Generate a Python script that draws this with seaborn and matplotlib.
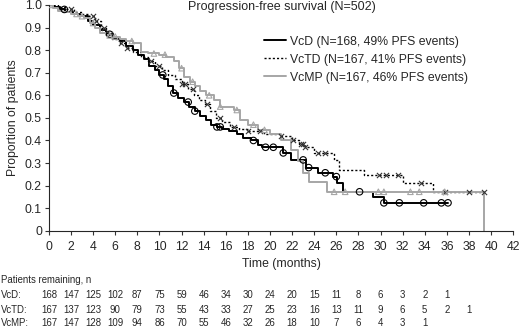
import matplotlib
matplotlib.use("Agg")
import matplotlib.pyplot as plt
import matplotlib.transforms as mtransforms
import numpy as np
import seaborn as sns

# Kaplan-Meier step points (time in months, proportion progression-free)
vcd_t = [0, 0.5, 1.0, 1.5, 2.2, 2.8, 3.5, 4.0, 4.6, 5.2, 5.8, 6.4, 7.0, 7.6, 8.1, 8.6,
         9.1, 9.6, 10.0, 10.4, 10.8, 11.2, 11.7, 12.2, 12.7, 13.2, 13.7, 14.2, 14.7,
         15.2, 15.7, 16.3, 17.0, 17.6, 18.3, 18.9, 19.3, 21.2, 21.9, 23.3, 24.3, 25.7,
         26.1, 26.6, 29.3, 30.3, 36.1]
vcd_s = [1.0, 0.99, 0.98, 0.97, 0.96, 0.95, 0.93, 0.91, 0.89, 0.87, 0.85, 0.84, 0.82,
         0.80, 0.78, 0.76, 0.73, 0.71, 0.69, 0.67, 0.64, 0.61, 0.59, 0.57, 0.55, 0.53,
         0.51, 0.49, 0.47, 0.46, 0.45, 0.44, 0.43, 0.41, 0.40, 0.38, 0.37, 0.345, 0.314,
         0.28, 0.257, 0.24, 0.21, 0.173, 0.15, 0.124, 0.124]
vcd_cens = [1.4, 5.5, 10.3, 11.3, 12.6, 13.2, 15.2, 15.5, 18.5, 19.6, 20.3, 21.2, 23.0,
            23.5, 25.0, 26.0, 28.1, 30.3, 31.7, 33.9, 35.5, 36.1]

vctd_t = [0, 0.8, 1.5, 2.3, 3.0, 3.6, 4.2, 4.7, 5.2, 5.7, 6.3, 7.0, 7.6, 8.3, 9.0, 9.6,
          10.2, 10.8, 11.4, 12.0, 12.6, 13.1, 13.6, 14.1, 14.6, 15.1, 15.7, 16.4, 17.2,
          18.0, 19.5, 21.0, 22.0, 22.6, 23.2, 24.0, 25.8, 26.2, 28.5, 32.0, 34.7, 39.4]
vctd_s = [1.0, 0.99, 0.98, 0.97, 0.96, 0.95, 0.93, 0.90, 0.87, 0.85, 0.83, 0.81, 0.79,
          0.77, 0.75, 0.73, 0.71, 0.69, 0.67, 0.65, 0.63, 0.60, 0.58, 0.56, 0.53, 0.50,
          0.48, 0.46, 0.45, 0.44, 0.43, 0.42, 0.40, 0.385, 0.37, 0.345, 0.314, 0.27,
          0.248, 0.212, 0.173, 0.173]
vctd_cens = [2.0, 4.0, 4.3, 5.0, 5.5, 6.5, 7.1, 9.2, 10.0, 12.0, 12.3, 13.0, 14.3, 15.5,
             16.7, 18.0, 19.1, 21.0, 22.1, 22.8, 23.0, 23.2, 24.3, 25.0, 29.9, 30.5,
             31.6, 33.7, 35.8, 38.0, 39.4]

vcmp_t = [0, 0.4, 0.8, 1.3, 2.0, 2.6, 3.2, 3.7, 4.2, 4.6, 5.2, 5.8, 6.4, 7.0, 7.6, 8.3,
          9.0, 10.0, 10.6, 11.3, 11.8, 12.2, 12.8, 13.2, 13.7, 14.2, 14.9, 15.5, 16.7,
          17.3, 18.0, 18.9, 20.0, 21.0, 21.9, 22.5, 23.0, 23.5, 25.2, 39.4]
vcmp_s = [1.0, 0.985, 0.975, 0.97, 0.96, 0.95, 0.94, 0.92, 0.90, 0.876, 0.865, 0.86,
          0.85, 0.84, 0.83, 0.79, 0.785, 0.78, 0.77, 0.75, 0.72, 0.68, 0.66, 0.64, 0.62,
          0.60, 0.58, 0.55, 0.535, 0.49, 0.47, 0.447, 0.43, 0.40, 0.36, 0.31, 0.257,
          0.217, 0.173, 0.0]
vcmp_cens = [0.1, 2.5, 3.0, 4.0, 5.5, 6.0, 7.5, 9.5, 10.5, 12.0, 13.0, 14.5, 15.5, 17.0,
             18.5, 19.5, 25.8, 26.8, 29.8, 30.3, 32.7, 33.5, 35.8]

labels = ["VcD (N=168, 49% PFS events)", "VcTD (N=167, 41% PFS events)",
          "VcMP (N=167, 46% PFS events)"]

# patients remaining at risk, every 2 months
risk_times = list(range(0, 40, 2))
risk_vcd = [168, 147, 125, 102, 87, 75, 59, 46, 34, 30, 24, 20, 15, 11, 8, 6, 3, 2, 1]
risk_vctd = [167, 137, 123, 90, 79, 73, 55, 43, 33, 27, 25, 23, 16, 13, 11, 9, 6, 5, 2, 1]
risk_vcmp = [167, 147, 128, 109, 94, 86, 70, 55, 46, 32, 26, 18, 10, 7, 6, 4, 3, 1]

sns.set_style("ticks")
plt.rcParams["font.family"] = ["Liberation Sans", "DejaVu Sans"]
gray = "#a6a6a6"


def step_value(t, s, c):
    idx = np.searchsorted(t, c, side="right") - 1
    return np.asarray(s)[idx]


fig = plt.figure(figsize=(5.2, 3.27), dpi=100)
ax = fig.add_axes([0.094, 0.294, 0.893, 0.691])

sns.lineplot(x=vcd_t, y=vcd_s, drawstyle="steps-post", estimator=None, sort=False,
             color="black", linewidth=1.4, label=labels[0], ax=ax)
sns.lineplot(x=vctd_t, y=vctd_s, drawstyle="steps-post", estimator=None, sort=False,
             color="black", linewidth=1.0, linestyle=(0, (1.5, 1.5)), label=labels[1], ax=ax)
sns.lineplot(x=vcmp_t, y=vcmp_s, drawstyle="steps-post", estimator=None, sort=False,
             color=gray, linewidth=1.4, label=labels[2], ax=ax)

sns.scatterplot(x=vcd_cens, y=step_value(vcd_t, vcd_s, vcd_cens), marker="o", s=22,
                facecolor="none", edgecolor="black", linewidth=0.8, ax=ax, zorder=3)
sns.scatterplot(x=vctd_cens, y=step_value(vctd_t, vctd_s, vctd_cens), marker="x", s=14,
                color="#333333", linewidth=0.8, ax=ax, zorder=3)
sns.scatterplot(x=vcmp_cens, y=step_value(vcmp_t, vcmp_s, vcmp_cens), marker="^", s=16,
                facecolor="none", edgecolor=gray, linewidth=0.8, ax=ax, zorder=3)

ax.set_xlim(0, 42)
ax.set_ylim(0, 1.0)
ax.set_xticks(range(0, 43, 2))
ax.set_yticks(np.arange(0, 1.01, 0.1))
ax.set_yticklabels(["0"] + ["%.1f" % v for v in np.arange(0.1, 1.01, 0.1)])
ax.tick_params(labelsize=8.8, length=3, width=0.8, color="#333333")
ax.tick_params(axis="x", pad=4)
ax.tick_params(axis="y", pad=2)
for sp in ["left", "bottom"]:
    ax.spines[sp].set_linewidth(0.8)
sns.despine(ax=ax)
ax.set_xlabel("Time (months)", fontsize=8.8, labelpad=4)
ax.set_ylabel("Proportion of patients", fontsize=8.8, labelpad=4)
fig.text(0.543, 0.997, "Progression-free survival (N=502)", fontsize=9.0,
         ha="center", va="top")

leg = ax.legend(loc="upper left", bbox_to_anchor=(0.452, 0.886), frameon=False,
                fontsize=8.8, handlelength=1.8, handletextpad=0.35, labelspacing=0.5,
                borderaxespad=0)

# patients remaining table
trans = mtransforms.blended_transform_factory(ax.transData, fig.transFigure)
fig.text(0.002, 0.144, "Patients remaining, n", fontsize=6.9, va="center")
rows = [("VcD:", risk_vcd, 0.099), ("VcTD:", risk_vctd, 0.053), ("VcMP:", risk_vcmp, 0.012)]
for name, vals, yy in rows:
    fig.text(0.002, yy, name, fontsize=6.9, va="center")
    for t, v in zip(risk_times, vals):
        ax.text(t, yy, str(v), transform=trans, fontsize=6.9, ha="center", va="center")

fig.savefig("out.png", dpi=100)
